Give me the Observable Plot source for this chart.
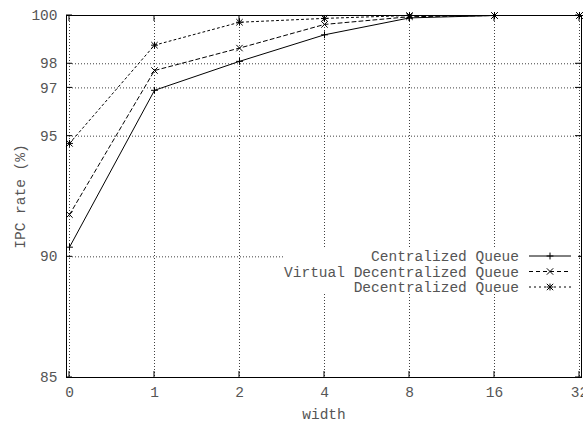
<!DOCTYPE html>
<html><head><meta charset="utf-8">
<script src="https://cdn.jsdelivr.net/npm/d3@7"></script>
<script src="https://cdn.jsdelivr.net/npm/@observablehq/plot@0.6"></script>
<style>
body{margin:0;background:#fff}
#chart{position:relative;width:583px;height:421px}
</style>
</head><body><div id="chart"></div>
<script>
const widths = ["0", "1", "2", "4", "8", "16", "32"];
const centralized = [90.4, 96.9, 98.1, 99.2, 99.9, 100, 100];
const virtualDecentralized = [91.75, 97.72, 98.65, 99.63, 99.95, 100, 100];
const decentralized = [94.7, 98.77, 99.72, 99.88, 100, 100, 100];
const yTicks = [85, 90, 95, 97, 98, 100];
const seriesNames = ["Centralized Queue", "Virtual Decentralized Queue", "Decentralized Queue"];
const seriesValues = [centralized, virtualDecentralized, decentralized];
const seriesSymbols = [["plus"], ["times"], ["plus", "times"]];
const seriesDashes = [null, "4,3", "2,3"];

const FONT = "Liberation Mono";
const TEXT = "#555";
const symR = {plus: 2.35, times: 3.0};

const rows = seriesNames.map((s, i) => widths.map((w, j) => ({series: s, width: w, value: seriesValues[i][j]})));

const marks = [
  Plot.gridY(yTicks, {stroke: "#000", strokeOpacity: 0.75, strokeDasharray: "1,2"}),
  Plot.gridX(widths, {stroke: "#000", strokeOpacity: 0.75, strokeDasharray: "1,2"}),
  Plot.axisY({ticks: yTicks, tickSize: 0, tickPadding: 9, label: "IPC rate (%)", labelAnchor: "center", labelOffset: 52, labelArrow: "none", fill: TEXT}),
  Plot.axisX({ticks: widths, tickSize: 0, tickPadding: 9, label: "width", labelAnchor: "center", labelOffset: 41, labelArrow: "none", fill: TEXT})
];
rows.forEach((data, i) => {
  marks.push(Plot.line(data, {x: "width", y: "value", stroke: "#000", strokeWidth: 1, strokeDasharray: seriesDashes[i]}));
  seriesSymbols[i].forEach(sym => {
    marks.push(Plot.dot(data, {x: "width", y: "value", symbol: sym, r: symR[sym], stroke: "#000", strokeWidth: 1}));
  });
});
marks.push(Plot.frame({stroke: "#000", strokeWidth: 1}));

const chart = Plot.plot({
  width: 583,
  height: 421,
  marginLeft: 66,
  marginRight: 2,
  marginTop: 15,
  marginBottom: 44,
  style: {fontFamily: FONT, fontSize: "14.5px", background: "#fff", color: TEXT},
  x: {type: "point", domain: widths, padding: 0},
  y: {domain: [85, 100]},
  marks
});
document.getElementById("chart").appendChild(chart);

// inward mirrored ticks (gnuplot style) and the key, drawn from the Plot scales
const svg = d3.select(chart);
const xs = chart.scale("x"), ys = chart.scale("y");
const x0 = xs.range[0], x1 = xs.range[1];
const y0 = ys.range[0], y1 = ys.range[1];
const tk = 6;
const tg = svg.append("g").attr("stroke", "#000").attr("stroke-width", 1);
yTicks.forEach(v => {
  const y = ys.apply(v);
  tg.append("line").attr("x1", x0).attr("x2", x0 + tk).attr("y1", y).attr("y2", y);
  tg.append("line").attr("x1", x1).attr("x2", x1 - tk).attr("y1", y).attr("y2", y);
});
widths.forEach(w => {
  const x = xs.apply(w);
  tg.append("line").attr("x1", x).attr("x2", x).attr("y1", y0).attr("y2", y0 - tk);
  tg.append("line").attr("x1", x).attr("x2", x).attr("y1", y1).attr("y2", y1 + tk);
});

// key
const key = svg.append("g");
const keyRight = x1 - 3;
key.append("rect").attr("x", 283).attr("y", 248).attr("width", keyRight - 283).attr("height", 46).attr("fill", "#fff");
const rowY = [256, 271.5, 287];
const symPath = {
  plus: d3.symbol(d3.symbolPlus, Math.PI * symR.plus * symR.plus)(),
  times: d3.symbol(d3.symbolTimes, Math.PI * symR.times * symR.times)()
};
seriesNames.forEach((name, i) => {
  const y = rowY[i];
  key.append("text").attr("x", 519).attr("y", y).attr("dy", "0.35em").attr("text-anchor", "end")
    .attr("font-family", FONT).attr("font-size", "14.5px").attr("fill", TEXT).text(name);
  key.append("line").attr("x1", 529).attr("x2", 571).attr("y1", y).attr("y2", y)
    .attr("stroke", "#000").attr("stroke-dasharray", seriesDashes[i]);
  seriesSymbols[i].forEach(sym => {
    key.append("path").attr("d", symPath[sym]).attr("transform", `translate(550,${y})`)
      .attr("fill", "none").attr("stroke", "#000");
  });
});
</script>
</body></html>
